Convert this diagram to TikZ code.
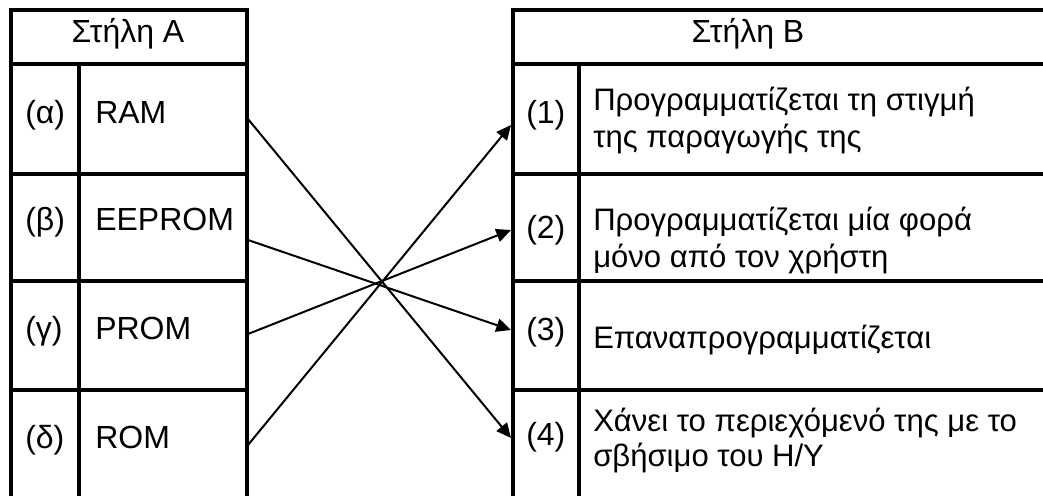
\documentclass[tikz,border=0pt]{standalone}
\usepackage{fontspec}
\setmainfont{Liberation Sans}
\usetikzlibrary{arrows.meta}

\begin{document}
\begin{tikzpicture}[x=0.75pt, y=-0.75pt,
    grid/.style={line width=2.5pt},
    txt/.style={anchor=base west, inner sep=0pt, font=\fontsize{24}{28}\selectfont},
    desc/.style={txt, font=\fontsize{23.3}{28}\selectfont},
    hdr/.style={txt, anchor=base},
    match/.style={line width=1.5pt, -{Triangle[length=11pt,width=10pt]}}]
  \useasboundingbox (0,0) rectangle (1043,496);

  \draw[grid] (11,500) -- (11,10) -- (247,10) -- (247,500);
  \draw[grid] (79,64) -- (79,500);
  \draw[grid] (513,500) -- (513,10) -- (1050,10);
  \draw[grid] (579,64) -- (579,500);
  \foreach \y in {64,174,281,390}
    \draw[grid] (11,\y) -- (247,\y) (513,\y) -- (1050,\y);

  \node[hdr] (hA) at (128,42) {Στήλη A};
  \node[hdr] (hB) at (748,42) {Στήλη B};

  \node[txt] (la) at (25,123) {(α)};
  \node[txt] (ma) at (95,123) {RAM};
  \node[txt] (lb) at (25,230) {(β)};
  \node[txt] (mb) at (95,230) {EEPROM};
  \node[txt] (lc) at (25,339) {(γ)};
  \node[txt] (mc) at (95,339) {PROM};
  \node[txt] (ld) at (25,448) {(δ)};
  \node[txt] (md) at (95,448) {ROM};

  \node[txt] (n1) at (526,123) {(1)};
  \node[desc] (d1) at (593,110) {Προγραμματίζεται τη στιγμή};
  \node[desc] (d1b) at (593,147) {της παραγωγής της};
  \node[txt] (n2) at (526,238) {(2)};
  \node[desc] (d2) at (593,230) {Προγραμματίζεται μία φορά};
  \node[desc] (d2b) at (593,267) {μόνο από τον χρήστη};
  \node[txt] (n3) at (526,340) {(3)};
  \node[desc] (d3) at (593,348) {Επαναπρογραμματίζεται};
  \node[txt] (n4) at (526,445) {(4)};
  \node[desc] (d4) at (593,431) {Χάνει το περιεχόμενό της με το};
  \node[desc] (d4b) at (593,466) {σβήσιμο του H/Y};

  \coordinate (a1) at (248,119);
  \coordinate (a2) at (248,240);
  \coordinate (a3) at (248,334);
  \coordinate (a4) at (248,445);
  \coordinate (b1) at (511,125);
  \coordinate (b2) at (511,230);
  \coordinate (b3) at (511,330);
  \coordinate (b4) at (511,438);

  \draw[match] (a1) -- (b4);
  \draw[match] (a2) -- (b3);
  \draw[match] (a3) -- (b2);
  \draw[match] (a4) -- (b1);
\end{tikzpicture}
\end{document}
